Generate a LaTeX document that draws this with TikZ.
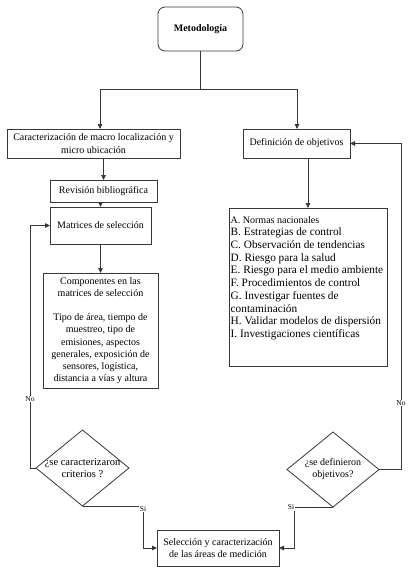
\documentclass[tikz,border=0pt]{standalone}
\usepackage{fontspec}
\setmainfont{Liberation Serif}
\usetikzlibrary{shapes.geometric,arrows.meta}
\begin{document}
\begin{tikzpicture}[x=1pt,y=-1pt,
  linecol/.style={draw=black!78},
  box/.style={linecol,line width=0.8pt,rectangle,inner sep=1pt,outer sep=0pt,align=center,font=\fontsize{10}{12.5}\selectfont},
  dec/.style={linecol,line width=0.8pt,diamond,inner sep=0pt,outer sep=0pt},
  arr/.style={linecol,line width=0.8pt,-{Triangle[length=5pt,width=4.5pt]}},
  ln/.style={linecol,line width=0.8pt},
  lbl/.style={fill=white,inner sep=0.6pt,font=\fontsize{7.5}{8}\selectfont}]
\useasboundingbox (0,0) rectangle (414,574);
\fill[white] (0,0) rectangle (414,574);
% nodes
\node[box,rounded corners=7pt,minimum width=85pt,minimum height=44pt,font=\bfseries\fontsize{10}{12}\selectfont] (met) at (200.5,29) {Metodología};
\node[box,minimum width=173pt,minimum height=29pt,font=\fontsize{10}{13}\selectfont] (car) at (93.5,143.5) {Caracterización de macro localización y\\micro ubicación};
\node[box,minimum width=107pt,minimum height=29pt] (def) at (296.5,143.5) {Definición de objetivos};
\node[box,minimum width=107pt,minimum height=22pt] (rev) at (103.5,191) {Revisión bibliográfica};
\node[box,minimum width=101pt,minimum height=37pt] (mat) at (100.5,225.5) {Matrices de selección};
\node[box,minimum width=115pt,minimum height=115pt,font=\fontsize{10}{12.2}\selectfont] (comp) at (100.5,330.5) {Componentes en las\\matrices de selección\\[12.2pt]Tipo de área, tiempo de\\muestreo, tipo de\\emisiones, aspectos\\generales, exposición de\\sensores, logística,\\distancia a vías y altura};
\node[box,minimum width=158pt,minimum height=158pt,align=left,inner sep=0pt,font=\fontsize{11.3}{12.7}\selectfont] (obj) at (308,287) {};
\node[anchor=north west,inner sep=0pt,align=left,font=\fontsize{11.3}{12.7}\selectfont] (objtxt) at (230.5,216) {{\fontsize{10}{12.7}\selectfont A. Normas nacionales}\\B. Estrategias de control\\C. Observación de tendencias\\D. Riesgo para la salud\\E. Riesgo para el medio ambiente\\F. Procedimientos de control\\G. Investigar fuentes de\\contaminación\\H. Validar modelos de dispersión\\I. Investigaciones científicas};
\node[dec,minimum width=93pt,minimum height=76pt,label={[align=center,font=\fontsize{10.5}{12}\selectfont]center:¿se caracterizaron\\criterios ?}] (d1) at (82.5,468) {};
\node[dec,minimum width=92pt,minimum height=75pt,label={[align=center,font=\fontsize{10}{12}\selectfont]center:¿se definieron\\objetivos?}] (d2) at (333,469.5) {};
\node[box,minimum width=122pt,minimum height=36pt] (fin) at (218,548) {Selección y caracterización\\de las áreas de medición};
% coordinates
\coordinate (jl) at (100,89);
\coordinate (jr) at (297,89);
\coordinate (s1) at (143,506);
\coordinate (s2) at (294,507);
\coordinate (fl) at (30,468);
\coordinate (fr) at (401,469.5);
% connectors
\draw[ln] (met.south) -- (met.south |- jl);
\draw[arr] (met.south |- jl) -- (jl) -- (jl |- car.north);
\draw[arr] (met.south |- jl) -- (jr) -- (jr |- def.north);
\draw[arr] (car.south -| rev.north) -- (rev.north);
\draw[arr] (rev.south -| mat.north) -- (mat.north);
\draw[arr] (mat.south) -- (comp.north);
\draw[arr] (def.south -| obj.north) -- (obj.north);
\draw[arr] (d1.west) -- (fl) |- (mat.west);
\draw[arr] (d2.east) -- (fr) |- (def.east);
\draw[arr] (d1.south) -- (s1) |- (fin.west);
\draw[arr] (d2.south) -- (s2) |- (fin.east);
% labels
\node[lbl] (no1) at (30,399) {No};
\node[lbl] (no2) at (401,403) {No};
\node[lbl] (si1) at (143,509) {Si};
\node[lbl,anchor=east] (si2) at (295,507.5) {Si};
\end{tikzpicture}
\end{document}
